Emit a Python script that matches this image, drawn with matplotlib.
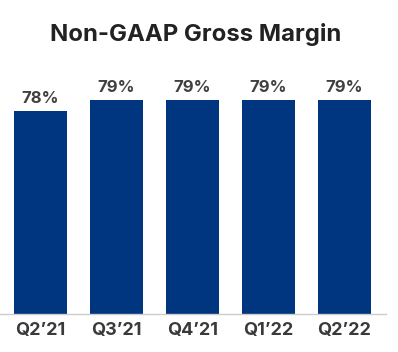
import matplotlib.pyplot as plt

quarters = ["Q2\u201921", "Q3\u201921", "Q4\u201921", "Q1\u201922", "Q2\u201922"]
margin = [78, 79, 79, 79, 79]
labels = ["78%", "79%", "79%", "79%", "79%"]

plt.rcParams['font.family'] = ['Inter', 'DejaVu Sans']

W, H = 398, 352
fig = plt.figure(figsize=(W / 100, H / 100), dpi=100)
# axes placed in pixel terms: baseline at y=314, line runs to x=386
ax = fig.add_axes([0, 38 / H, 386 / W, 254 / H])

x = range(len(quarters))
ax.bar(x, margin, width=0.70, color='#003580', zorder=2)
ax.set_xlim(-40.5 / 76, (386 - 40.5) / 76)
ax.set_ylim(59.5, 59.5 + 254 / 11)

for xi, v, lab in zip(x, margin, labels):
    ax.text(xi, v + 0.45, lab, ha='center', va='bottom', fontsize=12,
            fontweight='bold', color='#404040')

for s in ['top', 'right', 'left']:
    ax.spines[s].set_visible(False)
ax.spines['bottom'].set_color('#cccccc')
ax.spines['bottom'].set_linewidth(1)
ax.set_yticks([])
ax.set_xticks(list(x))
ax.set_xticklabels(quarters, fontsize=13, fontweight='bold', color='#3a3a3a')
ax.tick_params(axis='x', length=0, pad=6)

fig.text(196 / W, 1 - 35 / H, "Non-GAAP Gross Margin", ha='center', va='center',
         fontsize=17.2, fontweight='bold', color='#222222')

fig.savefig('out.png', dpi=100)
